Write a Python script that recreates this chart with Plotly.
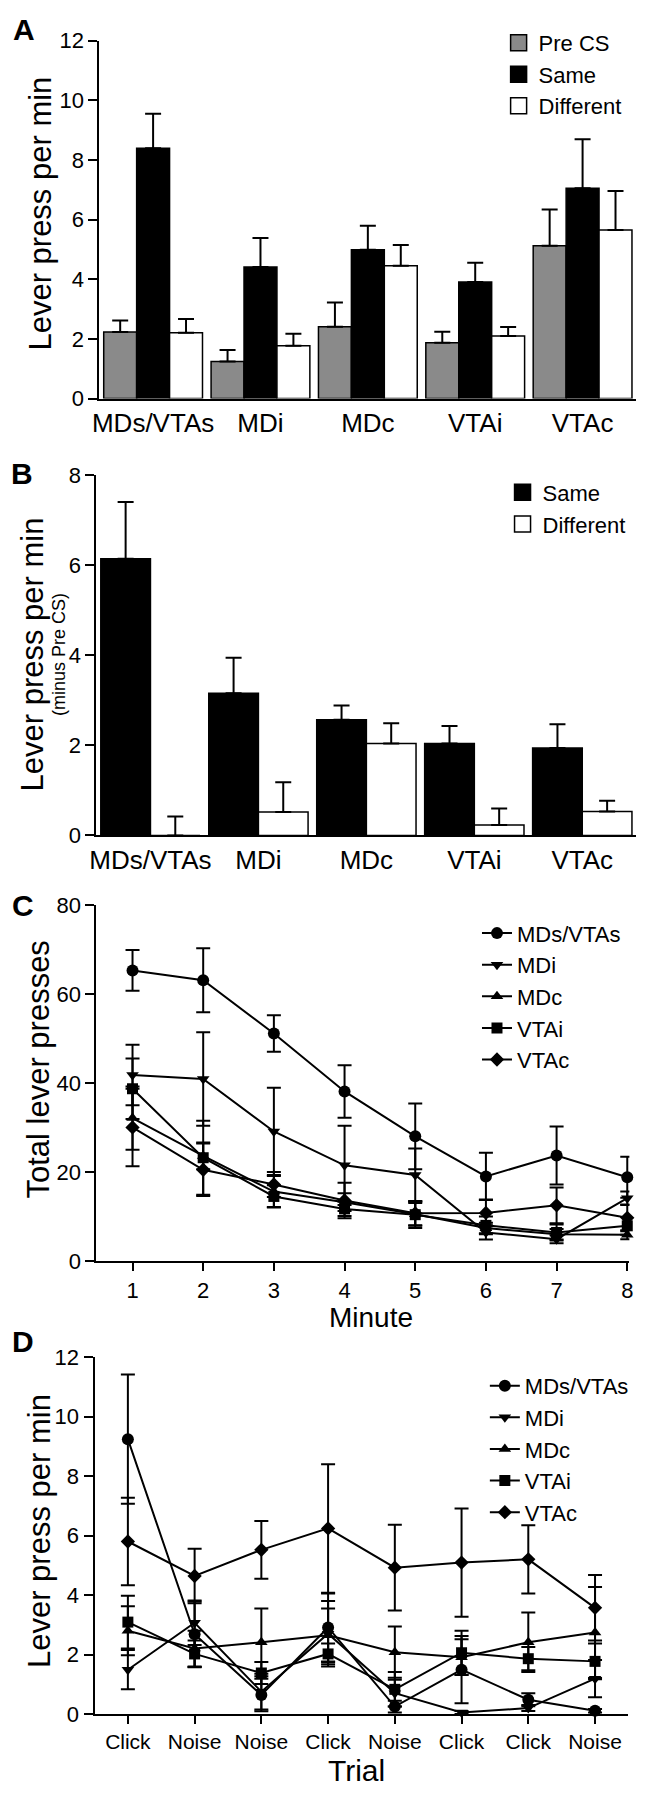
import plotly.graph_objects as go

W, H = 656, 1800
FONT = "Arial, Liberation Sans, sans-serif"

# ---------- data ----------
regions = ["MDs/VTAs", "MDi", "MDc", "VTAi", "VTAc"]

# Panel A
pre_cs = [2.23, 1.24, 2.41, 1.87, 5.12]
pre_cs_err = [0.39, 0.39, 0.81, 0.37, 1.22]
same_a = [8.39, 4.41, 4.99, 3.91, 7.05]
same_a_err = [1.16, 0.97, 0.80, 0.64, 1.64]
diff_a = [2.21, 1.77, 4.45, 2.10, 5.65]
diff_a_err = [0.46, 0.40, 0.70, 0.30, 1.31]

# Panel B
same_b = [6.15, 3.16, 2.57, 2.04, 1.94]
same_b_err = [1.26, 0.79, 0.32, 0.39, 0.53]
diff_b = [0.0, 0.52, 2.04, 0.23, 0.53]
diff_b_err = [0.42, 0.66, 0.45, 0.37, 0.24]

# Panel C
minutes = [1, 2, 3, 4, 5, 6, 7, 8]
c_mds = [65.4, 63.2, 51.2, 38.2, 28.1, 19.1, 23.8, 18.9]
c_mds_err = [4.6, 7.2, 4.1, 5.9, 7.4, 5.3, 6.5, 4.6]
c_mdi = [41.9, 41.0, 29.2, 21.6, 19.4, 6.5, 5.0, 14.2]
c_mdi_err = [6.8, 10.5, 9.8, 8.9, 6.0, 1.6, 0.9, 1.5]
c_mdc = [32.2, 23.7, 15.7, 13.3, 10.6, 7.5, 6.1, 6.0]
c_mdc_err = [7.1, 3.0, 3.5, 2.0, 2.5, 1.2, 1.2, 1.0]
c_vtai = [38.8, 23.3, 14.6, 11.8, 10.5, 8.1, 6.5, 8.0]
c_vtai_err = [6.8, 8.3, 2.5, 1.6, 3.0, 2.0, 1.8, 2.0]
c_vtac = [30.1, 20.6, 17.3, 13.7, 10.8, 10.9, 12.6, 9.8]
c_vtac_err = [8.7, 5.9, 2.8, 4.0, 2.8, 3.0, 4.0, 3.0]

# Panel D
trial_idx = [1, 2, 3, 4, 5, 6, 7, 8]
trial_labels = ["Click", "Noise", "Noise", "Click", "Noise", "Click", "Click", "Noise"]
d_mds = [9.24, 2.68, 0.64, 2.91, 0.25, 1.49, 0.48, 0.11]
d_mds_err = [2.17, 1.10, 0.55, 1.14, 0.20, 1.13, 0.22, 0.06]
d_mdi = [1.49, 3.07, 0.75, 2.70, 0.70, 0.05, 0.20, 1.19]
d_mdi_err = [0.66, 0.75, 0.60, 1.10, 0.45, 0.05, 0.10, 0.63]
d_mdc = [2.80, 2.20, 2.41, 2.65, 2.08, 1.91, 2.41, 2.74]
d_mdc_err = [0.82, 0.60, 1.14, 0.90, 0.86, 0.60, 1.00, 1.53]
d_vtai = [3.09, 2.02, 1.38, 2.02, 0.83, 2.06, 1.86, 1.77]
d_vtai_err = [0.89, 0.45, 0.37, 0.35, 0.58, 0.74, 0.39, 0.60]
d_vtac = [5.80, 4.64, 5.52, 6.24, 4.92, 5.09, 5.20, 3.57]
d_vtac_err = [1.47, 0.92, 0.97, 2.16, 1.44, 1.82, 1.15, 1.10]

series_names = ["MDs/VTAs", "MDi", "MDc", "VTAi", "VTAc"]
symbols = ["circle", "triangle-down", "triangle-up", "square", "diamond"]
msizes = [12, 11, 11, 11, 11]


def px(x):
    return x / W


def py(y):
    return 1 - y / H


fig = go.Figure()

# ---------- Panel A ----------
for name, vals, errs, col in [("Pre CS", pre_cs, pre_cs_err, "#8a8a8a"),
                              ("Same", same_a, same_a_err, "black"),
                              ("Different", diff_a, diff_a_err, "white")]:
    fig.add_trace(go.Bar(
        x=regions, y=vals, name=name, xaxis="x", yaxis="y", showlegend=False,
        marker=dict(color=col, line=dict(color="black", width=1.5)),
        error_y=dict(type="data", array=errs, symmetric=False,
                     arrayminus=[0] * len(errs), color="black",
                     thickness=2, width=8),
    ))
    fig.add_trace(go.Scatter(
        x=[None], y=[None], name=name, xaxis="x", yaxis="y", legend="legend",
        mode="markers",
        marker=dict(symbol="square", size=16, color=col,
                    line=dict(color="black", width=1.5)),
    ))

# ---------- Panel B ----------
for name, vals, errs, col in [("Same", same_b, same_b_err, "black"),
                              ("Different", diff_b, diff_b_err, "white")]:
    fig.add_trace(go.Bar(
        x=regions, y=vals, name=name, xaxis="x2", yaxis="y2", showlegend=False,
        marker=dict(color=col, line=dict(color="black", width=1.5)),
        error_y=dict(type="data", array=errs, symmetric=False,
                     arrayminus=[0] * len(errs), color="black",
                     thickness=2, width=8),
    ))
    fig.add_trace(go.Scatter(
        x=[None], y=[None], name=name, xaxis="x2", yaxis="y2", legend="legend2",
        mode="markers",
        marker=dict(symbol="square", size=16, color=col,
                    line=dict(color="black", width=1.5)),
    ))

# ---------- Panel C ----------
c_data = [(c_mds, c_mds_err), (c_mdi, c_mdi_err), (c_mdc, c_mdc_err),
          (c_vtai, c_vtai_err), (c_vtac, c_vtac_err)]
for i, (vals, errs) in enumerate(c_data):
    fig.add_trace(go.Scatter(
        x=minutes, y=vals, name=series_names[i], xaxis="x3", yaxis="y3",
        legend="legend3", mode="lines+markers", cliponaxis=False,
        line=dict(color="black", width=2),
        marker=dict(symbol=symbols[i], size=msizes[i], color="black"),
        error_y=dict(type="data", array=errs, color="black", thickness=2, width=7),
    ))

# ---------- Panel D ----------
d_data = [(d_mds, d_mds_err), (d_mdi, d_mdi_err), (d_mdc, d_mdc_err),
          (d_vtai, d_vtai_err), (d_vtac, d_vtac_err)]
for i, (vals, errs) in enumerate(d_data):
    fig.add_trace(go.Scatter(
        x=trial_idx, y=vals, name=series_names[i], xaxis="x4", yaxis="y4",
        legend="legend4", mode="lines+markers", cliponaxis=False,
        line=dict(color="black", width=2),
        marker=dict(symbol=symbols[i], size=msizes[i], color="black"),
        error_y=dict(type="data", array=errs, color="black", thickness=2, width=7),
    ))

TICKF = dict(family=FONT, size=22, color="black")
CATF = dict(family=FONT, size=26, color="black")
axis_common = dict(showline=True, linecolor="black", linewidth=2, showgrid=False,
                   zeroline=False, tickcolor="black", tickwidth=2, tickfont=TICKF)

layout = dict(
    width=W, height=H, margin=dict(l=0, r=0, t=0, b=0),
    paper_bgcolor="white", plot_bgcolor="white",
    font=dict(family=FONT, color="black"),
    barmode="group", bargap=0.08, bargroupgap=0,
    showlegend=True,
)

# Panel A axes
layout["xaxis"] = dict(axis_common, domain=[px(94), px(640)], anchor="y",
                       type="category", range=[-0.5, 4.5], ticks="", tickfont=CATF)
layout["yaxis"] = dict(axis_common, domain=[py(392), py(29)], anchor="x",
                       range=[0, 12], dtick=2, ticks="outside", ticklen=9)
# Panel B axes
layout["xaxis2"] = dict(axis_common, domain=[px(91), px(640)], anchor="y2",
                        type="category", range=[-0.5, 4.5], ticks="", tickfont=CATF)
layout["yaxis2"] = dict(axis_common, domain=[py(835), py(470)], anchor="x2",
                        range=[0, 8], dtick=2, ticks="outside", ticklen=9)
# Panel C axes
layout["xaxis3"] = dict(axis_common, domain=[px(91), px(633)], anchor="y3",
                        range=[0.49, 8.03], tickvals=minutes, ticks="outside",
                        ticklen=8)
layout["yaxis3"] = dict(axis_common, domain=[py(1267), py(906)], anchor="x3",
                        range=[0, 80], dtick=20, ticks="outside", ticklen=9)
# Panel D axes
layout["xaxis4"] = dict(axis_common, domain=[px(89), px(632)], anchor="y4",
                        range=[0.5, 8.5], tickvals=trial_idx,
                        ticktext=trial_labels, ticks="outside", ticklen=8,
                        tickfont=dict(family=FONT, size=21, color="black"))
layout["yaxis4"] = dict(axis_common, domain=[py(1726), py(1364)], anchor="x4",
                        range=[0, 12], dtick=2, ticks="outside", ticklen=9)

leg_common = dict(xanchor="left", yanchor="top", bgcolor="rgba(0,0,0,0)",
                  tracegroupgap=0, itemclick=False, itemsizing="trace")
LEGF = dict(family=FONT, size=22, color="black")
layout["legend"] = dict(leg_common, x=px(500), y=py(10), font=LEGF)
layout["legend2"] = dict(leg_common, x=px(504), y=py(466), font=LEGF)
layout["legend3"] = dict(leg_common, x=px(478), y=py(913), font=LEGF)
layout["legend4"] = dict(leg_common, x=px(486), y=py(1372), font=LEGF)

fig.update_layout(**layout)


def note(text, x, y, size, angle=0):
    fig.add_annotation(text=text, x=px(x), y=py(y), xref="paper", yref="paper",
                       xanchor="center", yanchor="middle", showarrow=False,
                       textangle=angle, font=dict(family=FONT, size=size, color="black"))


# Panel letters
for letter, x, y in [("A", 17, 18), ("B", 15, 468), ("C", 16, 906), ("D", 16, 1348)]:
    note("<b>%s</b>" % letter, x, y, 30)

# Y-axis titles
note("Lever press per min", 34, 204, 31, -90)
note("Lever press per min", 26, 652, 31, -90)
note("(minus Pre CS)", 53, 652, 18, -90)
note("Total lever presses", 32, 1072, 31, -90)
note("Lever press per min", 33, 1540, 31, -90)

# X-axis titles
note("Minute", 370, 1324, 28)
note("Trial", 355, 1783, 30)

fig.write_html("out.html",
               config={"displayModeBar": False},
               post_script="document.body.style.margin='0';"
                           "document.documentElement.style.margin='0';")
